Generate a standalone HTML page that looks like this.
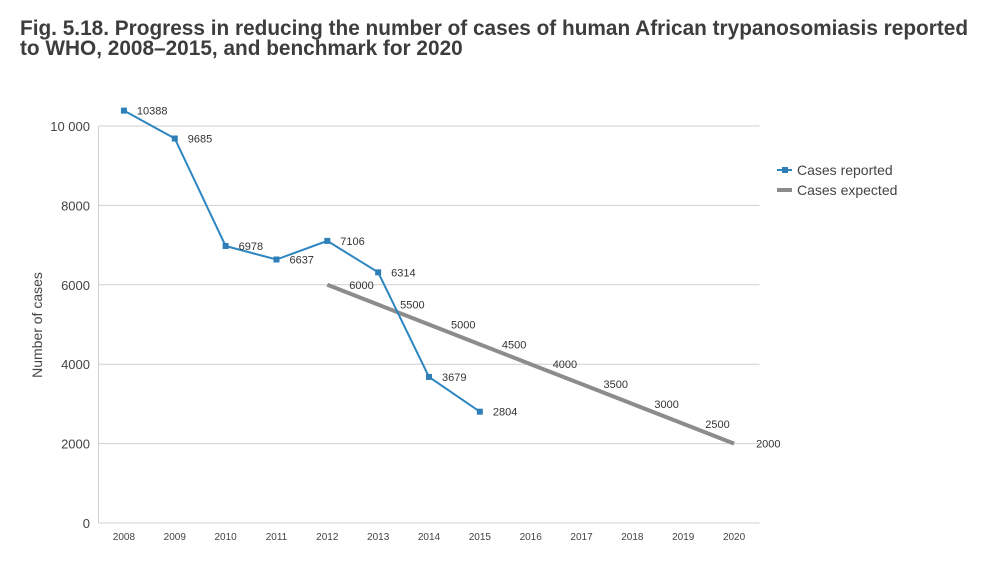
<!DOCTYPE html>
<html><head><meta charset="utf-8"><style>
body{margin:0;background:#fff;width:985px;height:571px;overflow:hidden;font-family:"Liberation Sans",sans-serif}
h1{position:absolute;left:20px;top:19px;margin:0;font-size:20.8px;line-height:20px;font-weight:bold;color:#3d3d3d;width:950px}
</style></head><body>
<h1>Fig. 5.18. Progress in reducing the number of cases of human African trypanosomiasis reported to WHO, 2008–2015, and benchmark for 2020</h1>
<svg id="c" width="985" height="571" style="position:absolute;left:0;top:0"></svg>
<script>
const years=["2008","2009","2010","2011","2012","2013","2014","2015","2016","2017","2018","2019","2020"];
const reported=[10388,9685,6978,6637,7106,6314,3679,2804];
const expectedYears=["2012","2013","2014","2015","2016","2017","2018","2019","2020"];
const expected=[6000,5500,5000,4500,4000,3500,3000,2500,2000];
const yTicks=[0,2000,4000,6000,8000,10000];
const yTickLabels=["0","2000","4000","6000","8000","10 000"];
const L=98.5,R=759.5,Y0=523,Y1=126;
const bw=(R-L)/years.length;
const x=c=>L+bw*(years.indexOf(c)+0.5);
const y=v=>Y0-(Y0-Y1)*v/10000;
const svg=document.getElementById('c');const NS='http://www.w3.org/2000/svg';
function mk(t,a,p){const e=document.createElementNS(NS,t);for(const k in a)e.setAttribute(k,a[k]);(p||svg).appendChild(e);return e;}
yTicks.forEach((v,i)=>{
 const g=mk('line',{x1:L,x2:R,y1:y(v),y2:y(v),stroke:'#d0d0d0','stroke-width':1});
 
 
 const t=mk('text',{x:90,y:y(v)+5,'text-anchor':'end','font-size':13,fill:'#444'});t.textContent=yTickLabels[i];
 
 
});
const ax=mk('line',{x1:L,x2:L,y1:Y1,y2:Y0,stroke:'#d0d0d0'});


years.forEach(c=>{const t=mk('text',{x:x(c),y:540,'text-anchor':'middle','font-size':10,fill:'#444'});t.textContent=c;
 
 });
const yt=mk('text',{x:0,y:0,transform:'translate(42,325) rotate(-90)','text-anchor':'middle','font-size':14,fill:'#444'});yt.textContent='Number of cases';


const ep=mk('polyline',{points:expected.map((v,i)=>x(expectedYears[i])+','+y(v)).join(' '),fill:'none',stroke:'#8c8c8c','stroke-width':4});


expected.forEach((v,i)=>{const t=mk('text',{x:x(expectedYears[i])+22,y:y(v)+4,'font-size':11,fill:'#333'});t.textContent=v;
 
 });
const rp=mk('polyline',{points:reported.map((v,i)=>x(years[i])+','+y(v)).join(' '),fill:'none',stroke:'#2e86c1','stroke-width':2});


reported.forEach((v,i)=>{const r=mk('rect',{x:x(years[i])-3,y:y(v)-3,width:6,height:6,fill:'#2e7fb8'});
 
 
 const t=mk('text',{x:x(years[i])+13,y:y(v)+4,'font-size':11,fill:'#333'});t.textContent=v;
 
 });
const l1=mk('line',{x1:777,x2:792,y1:170,y2:170,stroke:'#2e86c1','stroke-width':2});


const l1m=mk('rect',{x:782,y:167,width:6,height:6,fill:'#2e7fb8'});


const t1=mk('text',{x:797,y:175,'font-size':14,fill:'#444'});t1.textContent='Cases reported';


const l2=mk('line',{x1:777,x2:792,y1:190,y2:190,stroke:'#8c8c8c','stroke-width':4});


const t2=mk('text',{x:797,y:195,'font-size':14,fill:'#444'});t2.textContent='Cases expected';


</script>
</body></html>
